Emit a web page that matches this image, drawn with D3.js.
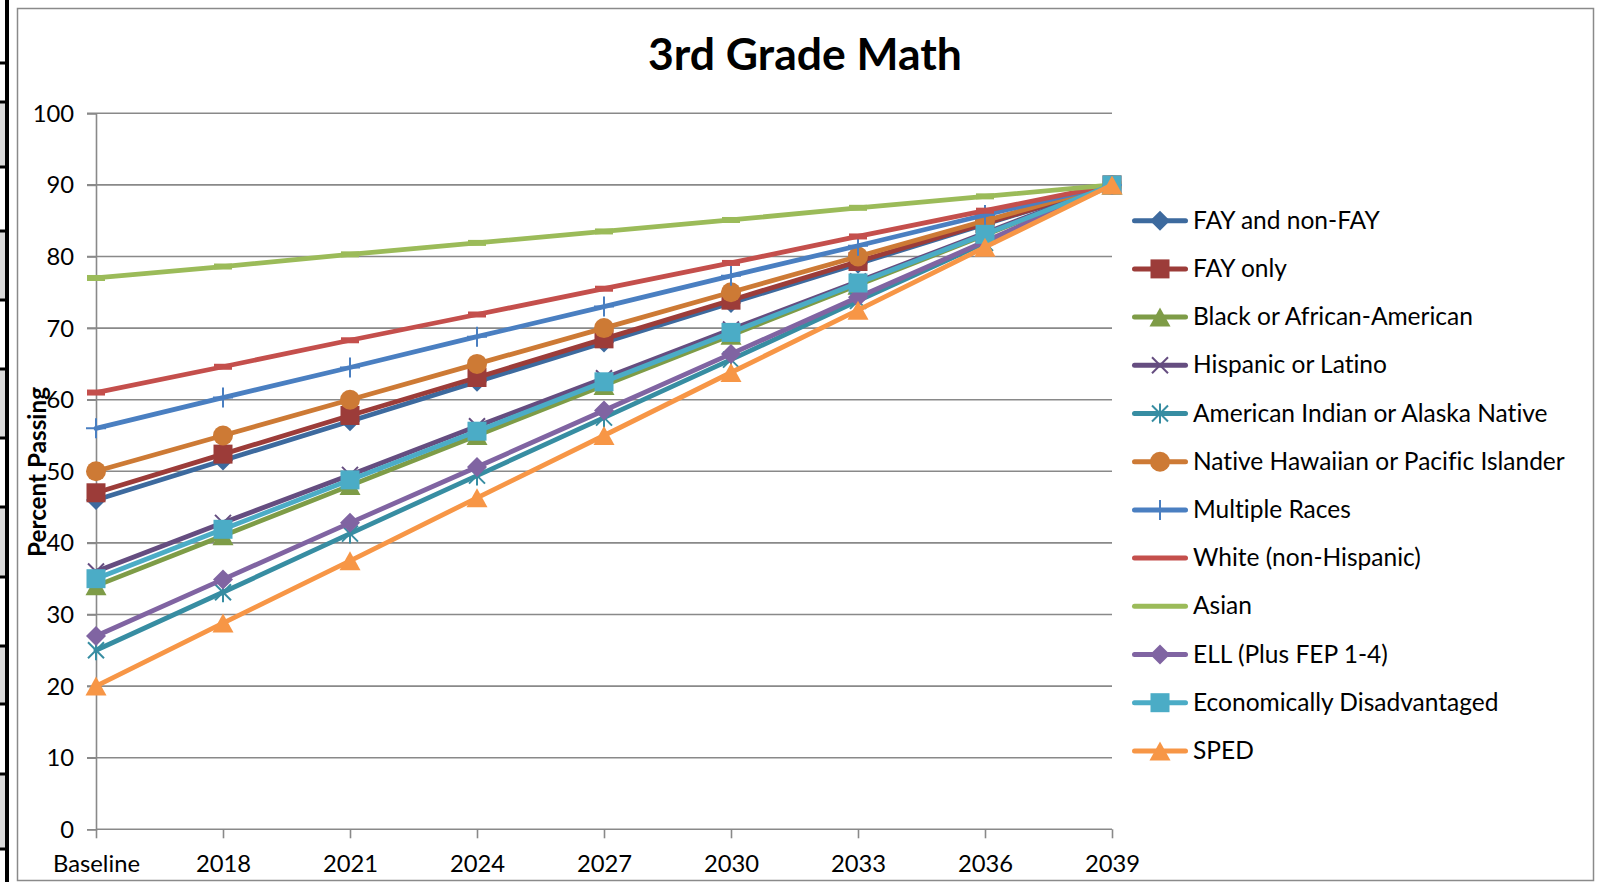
<!DOCTYPE html>
<html><head><meta charset="utf-8">
<script src="https://cdn.jsdelivr.net/npm/d3@7"></script>
<style>body{margin:0;background:#fff;overflow:hidden;} svg{display:block;} text{font-variant-ligatures:none;font-feature-settings:"liga" 0,"clig" 0;}</style>
</head><body>
<svg id="c" width="1601" height="882"></svg>
<script>
// ---------- data ----------
const categories = ["Baseline","2018","2021","2024","2027","2030","2033","2036","2039"];
const seriesNames = ["FAY and non-FAY","FAY only","Black or African-American","Hispanic or Latino",
  "American Indian or Alaska Native","Native Hawaiian or Pacific Islander","Multiple Races",
  "White (non-Hispanic)","Asian","ELL (Plus FEP 1-4)","Economically Disadvantaged","SPED"];
const fayAndNonFay   = [46, 51.5, 57, 62.5, 68, 73.5, 79, 84.5, 90];
const fayOnly        = [47, 52.4, 57.8, 63.1, 68.5, 73.9, 79.3, 84.6, 90];
const black          = [34, 41, 48, 55, 62, 69, 76, 83, 90];
const hispanic       = [36, 42.8, 49.5, 56.3, 63, 69.8, 76.5, 83.3, 90];
const amIndian       = [25, 33.1, 41.3, 49.4, 57.5, 65.6, 73.8, 81.9, 90];
const nativeHawaiian = [50, 55, 60, 65, 70, 75, 80, 85, 90];
const multipleRaces  = [56, 60.3, 64.5, 68.8, 73, 77.3, 81.5, 85.8, 90];
const white          = [61, 64.6, 68.3, 71.9, 75.5, 79.1, 82.8, 86.4, 90];
const asian          = [77, 78.6, 80.3, 81.9, 83.5, 85.1, 86.8, 88.4, 90];
const ell            = [27, 34.9, 42.8, 50.6, 58.5, 66.4, 74.3, 82.1, 90];
const econDisadv     = [35, 41.9, 48.8, 55.6, 62.5, 69.4, 76.3, 83.1, 90];
const sped           = [20, 28.8, 37.5, 46.3, 55, 63.8, 72.5, 81.3, 90];
const yTickValues = [0,10,20,30,40,50,60,70,80,90,100];

const seriesValues = [fayAndNonFay, fayOnly, black, hispanic, amIndian, nativeHawaiian,
  multipleRaces, white, asian, ell, econDisadv, sped];
const seriesColors = ["#3D6A9E","#9C3C39","#7E9C47","#654D80","#378DA2","#CD7A35",
  "#4A7FC1","#C44F4C","#9BBB59","#8064A2","#4BACC6","#F79646"];
const seriesMarkers = ["diamond","square","triangle","x","star","circle",
  "plus","dash","dash","diamond","square","triangle"];

// ---------- setup ----------
const svg = d3.select("#c");
const FONT = "Lato, 'Noto Sans', 'Open Sans', sans-serif";
const GRID = "#898989";

// spreadsheet fragment at the far left
const rowEdges = [0,63,102,167,231,300,369,438,507,577,646,704,774,849,882];
rowEdges.slice(0,-1).forEach((y0,i)=>{
  const y1 = rowEdges[i+1];
  const gray = (i>=2) && (i%2===0);
  svg.append("rect").attr("x",0).attr("y",y0).attr("width",5).attr("height",y1-y0)
    .attr("fill", gray ? "#d9d9d9" : "#ffffff");
  if (i>0) svg.append("rect").attr("x",0).attr("y",y0-1.5).attr("width",5).attr("height",3).attr("fill","#000");
});
svg.append("rect").attr("x",5).attr("y",0).attr("width",4).attr("height",882).attr("fill","#000");

// chart frame
svg.append("rect").attr("x",17.5).attr("y",8.5).attr("width",1576).attr("height",872)
  .attr("fill","#fff").attr("stroke","#8a8a8a").attr("stroke-width",1.5);

// scales
const x = d3.scalePoint().domain(categories).range([96, 1112]);
const y = d3.scaleLinear().domain([0,100]).range([829.3, 113.3]);

// gridlines
svg.append("g").selectAll("line").data(yTickValues.filter(v=>v>0)).join("line")
  .attr("x1",87).attr("x2",1112).attr("y1",d=>y(d)).attr("y2",d=>y(d))
  .attr("stroke",GRID).attr("stroke-width",1.6);

// y axis
const yAxis = svg.append("g").attr("transform","translate(96,0)")
  .call(d3.axisLeft(y).tickValues(yTickValues).tickSize(9).tickPadding(13).tickFormat(d3.format("d")));
yAxis.select(".domain").attr("stroke",GRID).attr("stroke-width",1.6);
yAxis.selectAll(".tick line").attr("stroke",GRID).attr("stroke-width",1.6);
yAxis.selectAll(".tick text").attr("font-family",FONT).attr("font-size",22).attr("fill","#000")
  .attr("dy",null).attr("y",8);

// x axis
const xAxis = svg.append("g").attr("transform",`translate(0,${y(0)})`)
  .call(d3.axisBottom(x).tickSize(9).tickPadding(0));
xAxis.select(".domain").attr("d",`M${x(categories[0])},0H${x(categories[categories.length-1])}`)
  .attr("stroke",GRID).attr("stroke-width",1.6);
xAxis.selectAll(".tick line").attr("stroke",GRID).attr("stroke-width",1.6);
xAxis.selectAll(".tick text").attr("font-family",FONT).attr("font-size",22).attr("fill","#000")
  .attr("dy",null).attr("y",43);

// fit axis font size to "Baseline" width
(function(){
  const t = xAxis.selectAll(".tick text").filter(d=>d==="Baseline");
  const w = t.node().getComputedTextLength();
  const fs = 22*87/w;
  xAxis.selectAll(".tick text").attr("font-size",fs);
  yAxis.selectAll(".tick text").attr("font-size",fs);
})();

// marker drawing
function drawMarker(g, type, color, cx, cy, legend){
  const m = g.append("g").attr("transform",`translate(${cx},${cy})`);
  switch(type){
    case "diamond":
      m.append("path").attr("d","M0,-10L10,0L0,10L-10,0Z").attr("fill",color); break;
    case "square":
      m.append("rect").attr("x",-9.5).attr("y",-9.5).attr("width",19).attr("height",19).attr("fill",color); break;
    case "triangle":
      m.append("path").attr("d","M0,-9.5L10.5,9.5L-10.5,9.5Z").attr("fill",color); break;
    case "circle":
      m.append("circle").attr("r",10).attr("fill",color); break;
    case "x":
      m.append("path").attr("d","M-8,-8L8,8M-8,8L8,-8").attr("stroke",color).attr("stroke-width",2).attr("fill","none"); break;
    case "star":
      m.append("path").attr("d","M-8,-8L8,8M-8,8L8,-8M0,-10L0,10").attr("stroke",color).attr("stroke-width",2).attr("fill","none"); break;
    case "plus":
      m.append("path").attr("d","M0,-10L0,10M-10,0L10,0").attr("stroke",color).attr("stroke-width",2).attr("fill","none"); break;
    case "dash":
      if(!legend) m.append("rect").attr("x",-9).attr("y",-3).attr("width",18).attr("height",6).attr("fill",color); break;
  }
}

// series lines & markers
const line = d3.line().x((d,i)=>x(categories[i])).y(d=>y(d));
const plot = svg.append("g");
seriesValues.forEach((vals,si)=>{
  const g = plot.append("g");
  g.append("path").datum(vals).attr("d",line).attr("fill","none")
    .attr("stroke",seriesColors[si]).attr("stroke-width",4.8)
    .attr("stroke-linejoin","round").attr("stroke-linecap","round");
  vals.forEach((v,i)=>drawMarker(g, seriesMarkers[si], seriesColors[si], x(categories[i]), y(v), false));
});

// legend
const legend = svg.append("g");
const legTexts = [];
seriesNames.forEach((name,i)=>{
  const ry = 220.7 + i*48.2;
  const g = legend.append("g");
  g.append("line").attr("x1",1134.5).attr("x2",1185.5).attr("y1",ry).attr("y2",ry)
    .attr("stroke",seriesColors[i]).attr("stroke-width",5).attr("stroke-linecap","round");
  drawMarker(g, seriesMarkers[i], seriesColors[i], 1160, ry, true);
  const t = g.append("text").attr("x",1193).attr("y",ry+8).text(name)
    .attr("font-family",FONT).attr("font-size",22).attr("fill","#000");
  legTexts.push(t);
});
(function(){
  const w = legTexts[5].node().getComputedTextLength();
  const fs = 22*372/w;
  legTexts.forEach(t=>t.attr("font-size",fs));
})();

// title
const title = svg.append("text").attr("x",805).attr("y",70).attr("text-anchor","middle")
  .attr("font-family",FONT).attr("font-weight","bold").attr("font-size",40).attr("fill","#000")
  .text("3rd Grade Math");
(function(){
  const w = title.node().getComputedTextLength();
  title.attr("font-size",40*314/w);
})();

// y axis title
const yTitle = svg.append("text").attr("transform","translate(46,472) rotate(-90)")
  .attr("text-anchor","middle").attr("font-family",FONT).attr("font-weight","bold")
  .attr("font-size",22).attr("fill","#000").text("Percent Passing");
(function(){
  const w = yTitle.node().getComputedTextLength();
  yTitle.attr("font-size",22*170/w);
})();
</script>
</body></html>
